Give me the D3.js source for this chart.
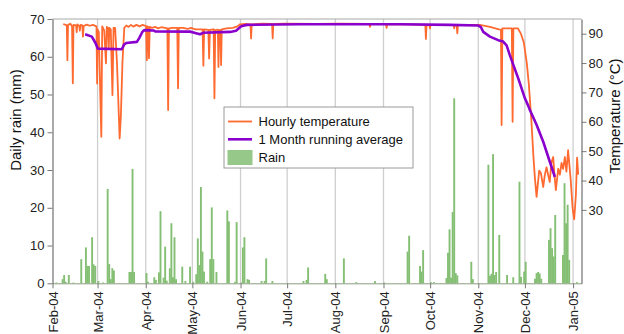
<!DOCTYPE html>
<html>
<head>
<meta charset="utf-8">
<script src="https://cdn.jsdelivr.net/npm/d3@7"></script>
<style>
  body { margin: 0; background: #fff; }
  svg { font-family: "Liberation Sans", Arial, sans-serif; }
</style>
</head>
<body>
<div id="chart"></div>
<script>
// daily rain, mm (days without a bar are 0)
const rain = [
  ["2004-02-03", 0.2], ["2004-02-07", 1.1], ["2004-02-08", 2.2], ["2004-02-09", 0.4],
  ["2004-02-11", 2.2], ["2004-02-14", 0.2], ["2004-02-19", 6.4], ["2004-02-22", 9.5],
  ["2004-02-23", 4.6], ["2004-02-24", 4.6], ["2004-02-26", 12.2], ["2004-02-27", 5.0],
  ["2004-02-28", 4.6], ["2004-03-01", 0.6], ["2004-03-04", 0.2], ["2004-03-07", 25.0],
  ["2004-03-08", 5.1], ["2004-03-09", 1.1], ["2004-03-10", 4.0], ["2004-03-11", 3.4],
  ["2004-03-21", 3.0], ["2004-03-22", 3.0], ["2004-03-23", 30.3], ["2004-03-24", 3.0],
  ["2004-04-01", 2.7], ["2004-04-02", 0.4], ["2004-04-06", 1.6], ["2004-04-07", 0.9],
  ["2004-04-09", 2.9], ["2004-04-10", 19.1], ["2004-04-12", 1.5], ["2004-04-13", 9.7],
  ["2004-04-14", 0.7], ["2004-04-16", 4.0], ["2004-04-17", 15.9], ["2004-04-18", 1.6],
  ["2004-04-19", 12.2], ["2004-04-20", 1.1], ["2004-04-24", 4.4], ["2004-04-26", 0.6],
  ["2004-04-29", 4.4], ["2004-05-01", 0.4], ["2004-05-03", 2.4], ["2004-05-04", 11.9],
  ["2004-05-05", 4.8], ["2004-05-06", 25.5], ["2004-05-07", 8.4], ["2004-05-08", 3.1],
  ["2004-05-10", 0.4], ["2004-05-12", 6.4], ["2004-05-13", 20.1], ["2004-05-14", 6.4],
  ["2004-05-16", 3.0], ["2004-05-23", 19.3], ["2004-05-24", 16.4], ["2004-05-28", 0.4],
  ["2004-05-29", 16.2], ["2004-06-01", 0.2], ["2004-06-02", 9.5], ["2004-06-03", 12.2],
  ["2004-06-05", 1.1], ["2004-06-06", 0.9], ["2004-06-14", 0.6], ["2004-06-16", 0.6],
  ["2004-06-17", 6.6], ["2004-06-21", 0.6], ["2004-07-11", 0.6], ["2004-07-13", 0.9],
  ["2004-07-14", 4.2], ["2004-07-25", 2.5], ["2004-07-26", 1.1], ["2004-08-06", 6.6],
  ["2004-08-14", 0.3], ["2004-08-26", 0.6], ["2004-09-01", 0.2], ["2004-09-16", 8.4],
  ["2004-09-17", 12.6], ["2004-09-24", 4.6], ["2004-09-25", 3.1], ["2004-09-26", 8.8],
  ["2004-10-01", 0.3], ["2004-10-03", 0.3], ["2004-10-11", 1.4], ["2004-10-12", 8.1],
  ["2004-10-13", 14.3], ["2004-10-14", 1.5], ["2004-10-15", 18.9], ["2004-10-16", 49.0],
  ["2004-10-17", 2.7], ["2004-10-18", 2.1], ["2004-10-27", 5.7], ["2004-10-28", 1.1],
  ["2004-11-07", 31.4], ["2004-11-08", 2.0], ["2004-11-09", 2.5], ["2004-11-10", 34.2],
  ["2004-11-11", 2.2], ["2004-11-12", 3.0], ["2004-11-14", 12.8], ["2004-11-19", 2.2],
  ["2004-11-23", 1.6], ["2004-11-27", 26.9], ["2004-11-28", 1.7], ["2004-11-30", 3.1],
  ["2004-12-01", 5.7], ["2004-12-07", 1.2], ["2004-12-08", 2.7], ["2004-12-09", 3.0],
  ["2004-12-10", 2.6], ["2004-12-11", 1.2], ["2004-12-16", 11.5], ["2004-12-17", 14.6],
  ["2004-12-18", 9.3], ["2004-12-19", 7.1], ["2004-12-20", 18.1], ["2004-12-25", 7.5],
  ["2004-12-26", 26.5], ["2004-12-27", 15.9], ["2004-12-28", 20.8], ["2004-12-29", 6.2],
  ["2005-01-03", 0.3]
];

// hourly temperature, °C (dips and recoveries)
const hourlyTemp = [
  ["2004-02-07 22", 93.3], ["2004-02-09 12", 93.0], ["2004-02-10 05", 92.8], ["2004-02-10 14", 81.0],
  ["2004-02-11 00", 93.0], ["2004-02-12 12", 93.4], ["2004-02-13 14", 92.5], ["2004-02-14 02", 73.1],
  ["2004-02-14 12", 93.0], ["2004-02-16 05", 92.8], ["2004-02-16 14", 90.5], ["2004-02-17 00", 93.2],
  ["2004-02-18 07", 92.5], ["2004-02-18 14", 91.0], ["2004-02-19 00", 93.0], ["2004-02-20 05", 92.8],
  ["2004-02-20 14", 89.0], ["2004-02-21 02", 92.6], ["2004-02-23 00", 93.1], ["2004-02-25 00", 92.7],
  ["2004-02-27 00", 93.0], ["2004-02-29 07", 92.5], ["2004-02-29 17", 73.0], ["2004-03-01 00", 91.5],
  ["2004-03-01 19", 90.5], ["2004-03-03 10", 54.9], ["2004-03-04 00", 92.5], ["2004-03-05 07", 91.0],
  ["2004-03-06 10", 79.9], ["2004-03-06 22", 92.3], ["2004-03-07 19", 92.0], ["2004-03-08 05", 85.0],
  ["2004-03-08 14", 92.0], ["2004-03-09 12", 91.5], ["2004-03-10 14", 69.1], ["2004-03-11 07", 92.0],
  ["2004-03-12 07", 92.0], ["2004-03-13 12", 80.0], ["2004-03-14 12", 65.0], ["2004-03-15 05", 54.3],
  ["2004-03-16 00", 62.0], ["2004-03-17 00", 80.0], ["2004-03-18 05", 92.0], ["2004-03-19 12", 92.8],
  ["2004-03-21 00", 92.3], ["2004-03-22 12", 93.0], ["2004-03-24 00", 92.4], ["2004-03-26 00", 93.0],
  ["2004-03-28 00", 92.5], ["2004-03-30 00", 93.0], ["2004-04-01 05", 92.6], ["2004-04-01 17", 81.0],
  ["2004-04-02 02", 92.5], ["2004-04-02 17", 92.3], ["2004-04-03 02", 81.6], ["2004-04-03 14", 92.3],
  ["2004-04-05 00", 92.0], ["2004-04-07 00", 92.3], ["2004-04-09 00", 91.8], ["2004-04-11 00", 92.2],
  ["2004-04-14 22", 91.8], ["2004-04-15 10", 64.0], ["2004-04-15 22", 91.8], ["2004-04-18 00", 92.0],
  ["2004-04-21 07", 92.0], ["2004-04-21 19", 71.4], ["2004-04-22 07", 92.0], ["2004-04-25 00", 92.0],
  ["2004-04-28 00", 91.6], ["2004-04-30 00", 92.0], ["2004-05-03 00", 91.5], ["2004-05-07 14", 91.5],
  ["2004-05-08 02", 79.1], ["2004-05-08 14", 91.5], ["2004-05-11 07", 91.3], ["2004-05-11 19", 81.6],
  ["2004-05-12 07", 91.3], ["2004-05-14 17", 91.5], ["2004-05-15 05", 68.0], ["2004-05-15 17", 91.2],
  ["2004-05-17 10", 91.4], ["2004-05-17 19", 78.7], ["2004-05-18 07", 91.2], ["2004-05-19 02", 91.3],
  ["2004-05-19 12", 79.3], ["2004-05-19 22", 91.5], ["2004-05-23 00", 91.8], ["2004-05-27 00", 92.0],
  ["2004-05-30 00", 92.5], ["2004-05-31 17", 93.2], ["2004-06-04 00", 93.3], ["2004-06-07 10", 93.2],
  ["2004-06-07 19", 88.4], ["2004-06-08 05", 93.2], ["2004-06-15 00", 93.4], ["2004-06-21 07", 93.3],
  ["2004-06-21 17", 88.4], ["2004-06-22 02", 93.3], ["2004-06-30 00", 93.4], ["2004-07-20 00", 93.3],
  ["2004-08-04 00", 93.4], ["2004-08-22 22", 93.3], ["2004-08-23 07", 92.3], ["2004-08-23 17", 93.3],
  ["2004-09-02 14", 93.3], ["2004-09-03 00", 92.0], ["2004-09-03 10", 93.3], ["2004-09-18 00", 93.2],
  ["2004-09-27 22", 93.0], ["2004-09-28 07", 88.2], ["2004-09-28 17", 93.0], ["2004-09-30 12", 93.0],
  ["2004-09-30 22", 91.8], ["2004-10-01 07", 93.0], ["2004-10-08 00", 93.0], ["2004-10-16 02", 93.0],
  ["2004-10-16 12", 91.8], ["2004-10-16 22", 93.0], ["2004-10-18 02", 92.9], ["2004-10-18 12", 90.1],
  ["2004-10-18 22", 92.9], ["2004-10-28 00", 93.0], ["2004-11-02 00", 93.0], ["2004-11-08 12", 92.3],
  ["2004-11-14 07", 91.5], ["2004-11-15 14", 91.4], ["2004-11-16 00", 58.9], ["2004-11-16 12", 91.8],
  ["2004-11-19 10", 91.8], ["2004-11-22 14", 91.8], ["2004-11-23 02", 60.0], ["2004-11-23 14", 91.8],
  ["2004-11-26 12", 91.8], ["2004-11-28 10", 90.0], ["2004-11-30 07", 87.0], ["2004-12-02 05", 80.0],
  ["2004-12-03 12", 73.0], ["2004-12-05 05", 60.0], ["2004-12-06 12", 48.0], ["2004-12-07 10", 41.0],
  ["2004-12-08 12", 34.4], ["2004-12-10 05", 43.4], ["2004-12-11 07", 42.5], ["2004-12-12 19", 37.8],
  ["2004-12-13 19", 41.8], ["2004-12-14 22", 44.5], ["2004-12-15 22", 42.0], ["2004-12-17 00", 39.5],
  ["2004-12-18 00", 46.0], ["2004-12-19 05", 48.0], ["2004-12-20 00", 42.0], ["2004-12-20 22", 36.7],
  ["2004-12-22 10", 44.0], ["2004-12-23 12", 42.0], ["2004-12-24 14", 46.0], ["2004-12-25 14", 44.0],
  ["2004-12-26 17", 48.0], ["2004-12-27 17", 43.0], ["2004-12-28 19", 50.3], ["2004-12-30 10", 40.6],
  ["2004-12-31 17", 30.5], ["2005-01-01 17", 26.8], ["2005-01-02 19", 35.0], ["2005-01-03 14", 47.8],
  ["2005-01-04 07", 42.0]
];

// 1 month running average, °C
const monthAvg = [
  ["2004-02-22 00", 89.8], ["2004-02-26 07", 89.0], ["2004-02-28 12", 87.0], ["2004-03-01 05", 84.9],
  ["2004-03-16 14", 84.7], ["2004-03-18 02", 86.3], ["2004-03-19 10", 86.8], ["2004-03-26 07", 87.2],
  ["2004-03-27 19", 88.5], ["2004-03-29 17", 90.5], ["2004-03-31 00", 91.2], ["2004-04-06 00", 91.1],
  ["2004-04-07 00", 90.8], ["2004-04-29 14", 90.7], ["2004-05-04 00", 90.1], ["2004-05-06 00", 89.8],
  ["2004-05-07 22", 90.3], ["2004-05-25 07", 90.6], ["2004-05-29 02", 91.0], ["2004-06-01 10", 92.5],
  ["2004-06-05 00", 93.0], ["2004-07-09 07", 93.2], ["2004-09-11 14", 93.2], ["2004-10-13 19", 93.0],
  ["2004-10-31 19", 92.8], ["2004-11-02 17", 92.2], ["2004-11-04 05", 90.6], ["2004-11-08 12", 89.0],
  ["2004-11-13 19", 87.8], ["2004-11-17 00", 87.3], ["2004-11-19 05", 86.0], ["2004-11-21 07", 82.7],
  ["2004-11-26 17", 74.8], ["2004-12-01 00", 68.0], ["2004-12-03 02", 65.5], ["2004-12-04 05", 64.0],
  ["2004-12-08 12", 59.0], ["2004-12-12 19", 53.2], ["2004-12-17 02", 46.3], ["2004-12-20 07", 41.2]
];

const rainTicks = [0, 10, 20, 30, 40, 50, 60, 70];
const tempTicks = [30, 40, 50, 60, 70, 80, 90];
const legendLabels = ["Hourly temperature", "1 Month running average", "Rain"];

const W = 624, H = 334;
const margin = { left: 52.5, right: 42.5, top: 19, bottom: 50.7 };
const colors = { temp: "#ff6a30", avg: "#8a00cc", rain: "#84bf74" };

const parseDay = d3.timeParse("%Y-%m-%d");
const parseHour = d3.timeParse("%Y-%m-%d %H");

const svg = d3.select("#chart").append("svg")
  .attr("width", W).attr("height", H);

const x = d3.scaleTime()
  .domain([parseDay("2004-02-01"), parseHour("2005-01-06 10")])
  .range([margin.left, W - margin.right]);
const yRain = d3.scaleLinear().domain([0, 70]).range([H - margin.bottom, margin.top]);
const yTemp = d3.scaleLinear().domain([5, 95]).range([H - margin.bottom, margin.top]);

const months = d3.timeMonth.range(parseDay("2004-02-01"), parseDay("2005-01-02"));

// gridlines
svg.append("g")
  .selectAll("line")
  .data(months.slice(1))
  .join("line")
  .attr("x1", d => x(d)).attr("x2", d => x(d))
  .attr("y1", margin.top).attr("y2", H - margin.bottom)
  .attr("stroke", "#cfcfcf")
  .attr("stroke-width", 1.3);

// top border
svg.append("line")
  .attr("x1", margin.left).attr("x2", W - margin.right)
  .attr("y1", margin.top).attr("y2", margin.top)
  .attr("stroke", "#a8a8a8");

// rain bars, one per day, a little wider than a day so they read as in the original
const dayMid = d => x(d3.timeHour.offset(parseDay(d[0]), 12));
svg.append("g")
  .selectAll("rect")
  .data(rain)
  .join("rect")
  .attr("x", d => dayMid(d) - 0.95)
  .attr("width", 1.9)
  .attr("y", d => yRain(d[1]))
  .attr("height", d => yRain(0) - yRain(d[1]))
  .attr("fill", colors.rain);

// temperature lines
const line = d3.line()
  .x(d => x(parseHour(d[0])))
  .y(d => yTemp(d[1]));

svg.append("path")
  .datum(hourlyTemp)
  .attr("d", line)
  .attr("fill", "none")
  .attr("stroke", colors.temp)
  .attr("stroke-width", 1.8)
  .attr("stroke-linejoin", "round");

svg.append("path")
  .datum(monthAvg)
  .attr("d", line)
  .attr("fill", "none")
  .attr("stroke", colors.avg)
  .attr("stroke-width", 2.6)
  .attr("stroke-linejoin", "round");

// axes
const styleAxis = g => {
  g.selectAll("text").attr("font-size", 13).attr("fill", "#222");
  g.selectAll(".tick line").attr("stroke", "#777");
};

svg.append("g")
  .attr("transform", `translate(0,${H - margin.bottom})`)
  .call(d3.axisBottom(x).tickValues(months).tickFormat(d3.timeFormat("%b-%y"))
    .tickSize(5).tickSizeOuter(0))
  .call(styleAxis)
  .call(g => g.select(".domain").attr("stroke", "#8a9e80"))
  .call(g => g.selectAll("text")
    .attr("transform", "rotate(-90)")
    .attr("text-anchor", "end")
    .attr("x", -8).attr("y", 0).attr("dy", "0.35em"));

svg.append("g")
  .attr("transform", `translate(${margin.left},0)`)
  .call(d3.axisLeft(yRain).tickValues(rainTicks).tickSize(5).tickPadding(3).tickSizeOuter(0))
  .call(styleAxis)
  .call(g => g.select(".domain").attr("stroke", "#555"));

svg.append("g")
  .attr("transform", `translate(${W - margin.right},0)`)
  .call(d3.axisRight(yTemp).tickValues(tempTicks).tickSize(5).tickPadding(2).tickSizeOuter(0))
  .call(styleAxis)
  .call(g => g.select(".domain").attr("stroke", "#555"));

// axis titles
svg.append("text")
  .attr("transform", "translate(21,120) rotate(-90)")
  .attr("text-anchor", "middle")
  .attr("font-size", 15).attr("fill", "#111")
  .text("Daily rain (mm)");

svg.append("text")
  .attr("transform", "translate(620,116) rotate(-90)")
  .attr("text-anchor", "middle")
  .attr("font-size", 15).attr("fill", "#111")
  .text("Temperature (°C)");

// legend
const legend = svg.append("g").attr("transform", "translate(224,107)");
legend.append("rect")
  .attr("width", 189).attr("height", 61)
  .attr("fill", "#fff").attr("stroke", "#9a9a9a");

const rowY = [14.5, 32.3, 50];
legend.append("line")
  .attr("x1", 4).attr("x2", 28).attr("y1", rowY[0]).attr("y2", rowY[0])
  .attr("stroke", colors.temp).attr("stroke-width", 1.8);
legend.append("line")
  .attr("x1", 4).attr("x2", 28).attr("y1", rowY[1]).attr("y2", rowY[1])
  .attr("stroke", colors.avg).attr("stroke-width", 2.6);
legend.append("rect")
  .attr("x", 3.5).attr("y", 43).attr("width", 25).attr("height", 15)
  .attr("fill", colors.rain).attr("opacity", 0.85);

legend.selectAll("text.lbl")
  .data(legendLabels)
  .join("text")
  .attr("class", "lbl")
  .attr("x", 34.5)
  .attr("y", (d, i) => rowY[i])
  .attr("dy", "0.35em")
  .attr("font-size", 13).attr("fill", "#111")
  .text(d => d);
</script>
</body>
</html>
